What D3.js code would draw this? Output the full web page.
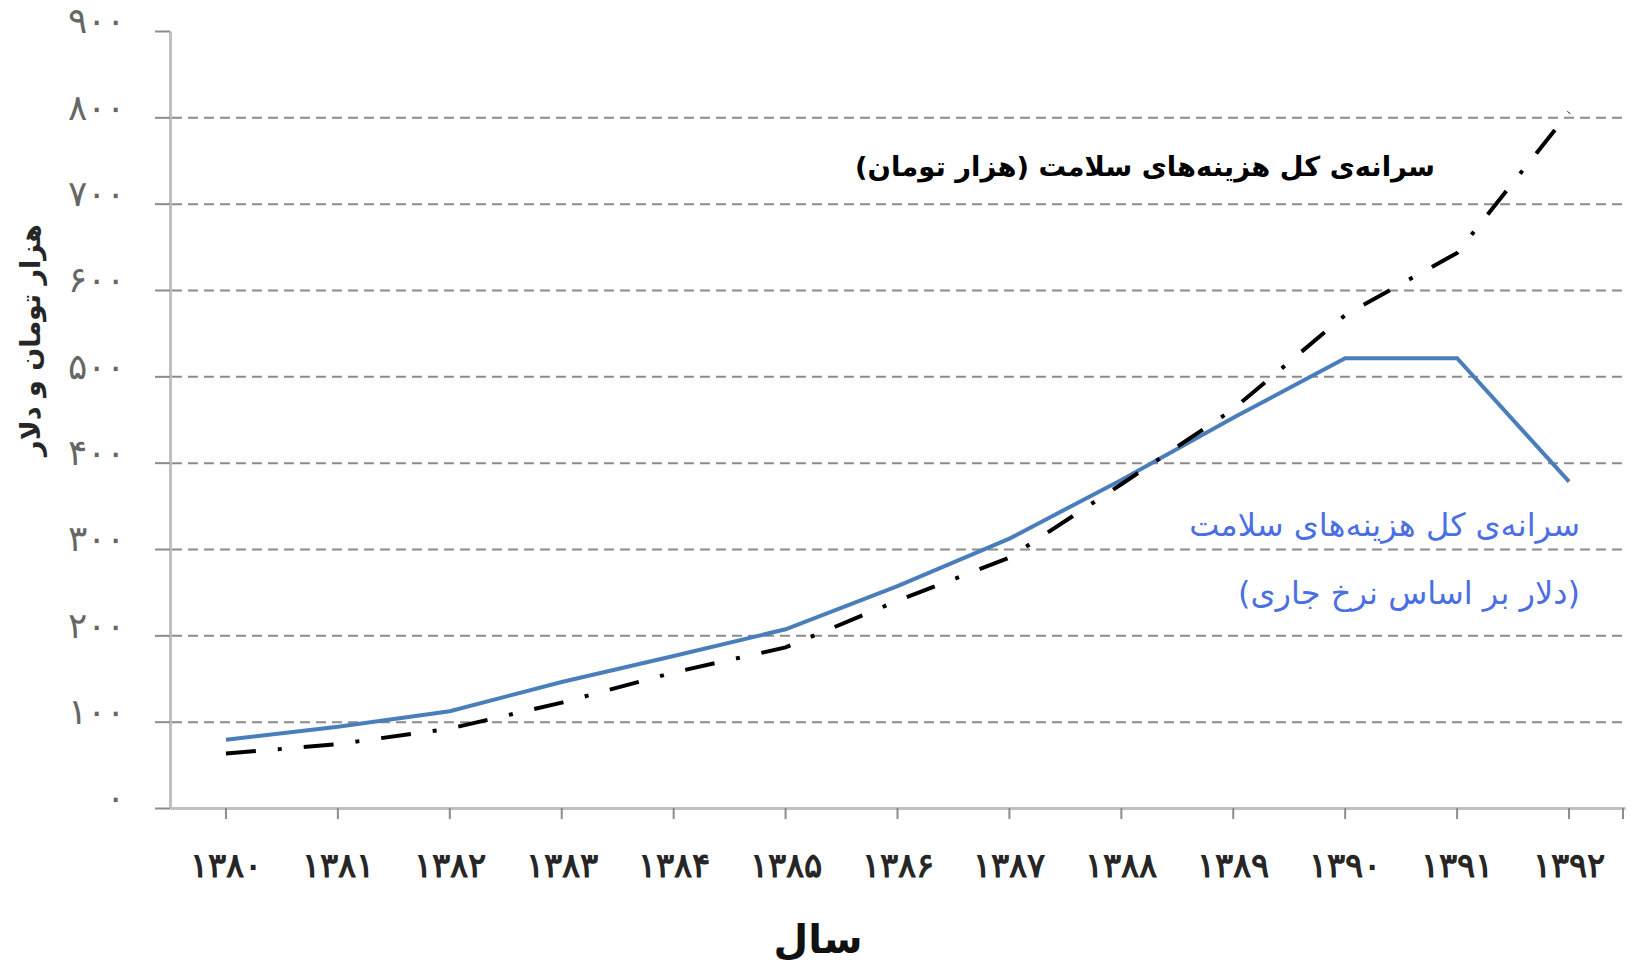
<!DOCTYPE html>
<html lang="fa">
<head>
    <meta charset="UTF-8"/>
    <title>سرانه‌ی کل هزینه‌های سلامت</title>
    <script src="https://d3js.org/d3.v7.min.js"></script>
    <style>
        body { margin: 0; background: #fff; }
        svg { display: block; font-family: "DejaVu Sans", sans-serif; }
        .axis path, .axis line { fill: none; }
        .axis .domain { stroke: #c0c0c0; stroke-width: 3; }
        .axis .tick line { stroke: #8c8c8c; stroke-width: 2; }
        .grid-line { stroke: #e8e8e8; stroke-width: 2; stroke-dasharray: 10,6; }
        .y-axis text { font-size: 36px; fill: #666; }
        .x-axis text { font-size: 34px; font-weight: bold; fill: #262626; }
    </style>
</head>
<body></body>
<script type="text/javascript">
    // سال‌ها (دسته‌ها)
    let years = ["۱۳۸۰", "۱۳۸۱", "۱۳۸۲", "۱۳۸۳", "۱۳۸۴", "۱۳۸۵", "۱۳۸۶",
                 "۱۳۸۷", "۱۳۸۸", "۱۳۸۹", "۱۳۹۰", "۱۳۹۱", "۱۳۹۲"];

    // سرانه به دلار (نرخ جاری)
    let dollarValues = [79, 94, 112, 146, 176, 207, 257, 312, 380, 452, 521, 521, 378];

    // سرانه به هزار تومان
    let tomanValues = [63, 74, 92, 122, 157, 186, 240, 290, 375, 462, 571, 643, 806];

    let yTicks = [0, 100, 200, 300, 400, 500, 600, 700, 800, 900];
    let yTickLabels = ["۰", "۱۰۰", "۲۰۰", "۳۰۰", "۴۰۰", "۵۰۰", "۶۰۰", "۷۰۰", "۸۰۰", "۹۰۰"];

    let width = 1633,
        height = 973,
        plotLeft = 170,
        plotRight = 1625,
        plotTop = 31,
        plotBottom = 808;

    let svg = d3.select("body").append("svg")
        .attr("width", width)
        .attr("height", height);

    let scaleX = d3.scaleBand()
        .domain(years)
        .range([plotLeft, plotRight]);

    let scaleY = d3.scaleLinear()
        .domain([0, 900])
        .range([plotBottom, plotTop]);

    let cx = d => scaleX(d) + scaleX.bandwidth() / 2;

    // محور عمودی
    let yAxis = d3.axisLeft(scaleY)
        .tickValues(yTicks)
        .tickFormat((d, i) => yTickLabels[i])
        .tickSize(15)
        .tickSizeOuter(0)
        .tickPadding(30);

    let gy = svg.append("g")
        .attr("class", "axis y-axis")
        .attr("transform", "translate(" + plotLeft + ",0)")
        .call(yAxis);

    gy.selectAll("text").attr("dy", "0.05em");

    // خطوط راهنمای افقی
    gy.selectAll("g.tick")
        .filter(d => d > 0 && d < 900)
        .append("line")
        .classed("grid-line", true)
        .attr("x1", 2)
        .attr("x2", plotRight - plotLeft)
        .attr("y1", 0)
        .attr("y2", 0);

    // محور افقی
    let xAxis = d3.axisBottom(scaleX)
        .tickSize(11)
        .tickSizeOuter(0)
        .tickPadding(34);

    let gx = svg.append("g")
        .attr("class", "axis x-axis")
        .attr("transform", "translate(0," + plotBottom + ")")
        .call(xAxis);

    gx.append("line")
        .attr("x1", plotRight - 2)
        .attr("x2", plotRight - 2)
        .attr("y1", 0)
        .attr("y2", 11)
        .style("stroke", "#8c8c8c")
        .style("stroke-width", 2);

    // عنوان محورها
    svg.append("text")
        .attr("x", 818)
        .attr("y", 953)
        .attr("text-anchor", "middle")
        .style("font-size", "40px")
        .style("font-weight", "bold")
        .style("fill", "#111")
        .text("سال");

    svg.append("text")
        .attr("transform", "translate(40,340) rotate(-90)")
        .attr("text-anchor", "middle")
        .style("font-size", "27px")
        .style("font-weight", "bold")
        .style("fill", "#262626")
        .text("هزار تومان و دلار");

    // خط دلار
    let line = d3.line()
        .x((d, i) => cx(years[i]))
        .y(d => scaleY(d));

    svg.append("path")
        .attr("d", line(dollarValues))
        .style("fill", "none")
        .style("stroke", "#4a7ebb")
        .style("stroke-width", 4);

    // خط هزار تومان (نقطه‌چین)
    svg.append("path")
        .attr("d", line(tomanValues))
        .style("fill", "none")
        .style("stroke", "#000")
        .style("stroke-width", 4)
        .style("stroke-dasharray", "30,22,4,22");

    // برچسب سری‌ها
    svg.append("text")
        .attr("x", 1435)
        .attr("y", 176)
        .attr("direction", "rtl")
        .attr("text-anchor", "start")
        .style("font-size", "27.4px")
        .style("font-weight", "bold")
        .style("fill", "#000")
        .text("سرانه‌ی کل هزینه‌های سلامت (هزار تومان)");

    let blueLabel = svg.append("text")
        .attr("direction", "rtl")
        .attr("text-anchor", "start")
        .style("font-size", "32px")
        .style("fill", "#4a6fe3");

    blueLabel.append("tspan")
        .attr("x", 1580)
        .attr("y", 536)
        .text("سرانه‌ی کل هزینه‌های سلامت");

    blueLabel.append("tspan")
        .attr("x", 1580)
        .attr("y", 604)
        .text("(دلار بر اساس نرخ جاری)");
</script>
</html>
